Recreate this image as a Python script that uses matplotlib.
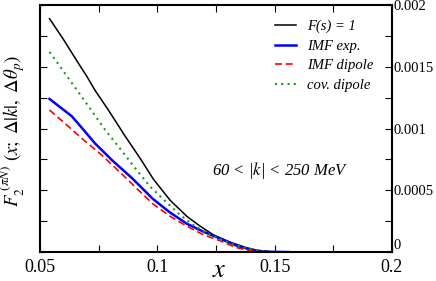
import matplotlib
matplotlib.use("Agg")
import matplotlib.pyplot as plt
from matplotlib.ticker import MultipleLocator

plt.rcParams['font.family'] = ['Liberation Serif', 'DejaVu Serif']
plt.rcParams['mathtext.fontset'] = 'stix'

# values
x_black = [0.054, 0.060, 0.0656, 0.070, 0.0734, 0.0791, 0.0862, 0.0926, 0.0983, 0.1054,
           0.1125, 0.1182, 0.1238, 0.1310, 0.1380, 0.1437, 0.150, 0.1557]
y_black = [0.00189, 0.00172, 0.00155, 0.00142, 0.00131, 0.00115, 0.00094, 0.00076, 0.00059, 0.00042,
           0.00029, 0.00021, 0.00014, 0.00008, 0.000035, 0.00001, 0.000001, 0.0]

x_blue = [0.054, 0.0635, 0.0685, 0.0734, 0.0806, 0.0891, 0.0981, 0.1054, 0.1125, 0.1196,
          0.1267, 0.1340, 0.1407, 0.147, 0.1557]
y_blue = [0.00124, 0.00110, 0.00099, 0.00088, 0.000745, 0.00060, 0.00043, 0.00032, 0.00023, 0.000165,
          0.00011, 0.00005, 0.000015, 0.000002, 0.0]

x_red = [0.054, 0.0607, 0.0678, 0.0763, 0.0855, 0.0920, 0.0981, 0.1054, 0.1125, 0.1196,
         0.1267, 0.1330, 0.1394, 0.146, 0.1557]
y_red = [0.00115, 0.00104, 0.00092, 0.000785, 0.00062, 0.00050, 0.00039, 0.00029, 0.00021, 0.00014,
         0.000092, 0.00004, 0.00001, 0.000001, 0.0]

x_green = [0.054, 0.0571, 0.0635, 0.0699, 0.0777, 0.0848, 0.0905, 0.0969, 0.1040, 0.1097,
           0.1160, 0.1224, 0.1310, 0.1380, 0.144, 0.150, 0.1557]
y_green = [0.00162, 0.00154, 0.00137, 0.00120, 0.00099, 0.00082, 0.00068, 0.00053, 0.00040, 0.00030,
           0.00021, 0.00014, 0.00007, 0.00003, 0.000008, 0.000001, 0.0]

x_ticks = [0.05, 0.1, 0.15, 0.2]
x_labels = ['0.05', '0.1', '0.15', '0.2']
y_ticks = [0, 0.0005, 0.001, 0.0015, 0.002]
y_labels = ['0', '0.0005', '0.001', '0.0015', '0.002']

fig = plt.figure(figsize=(4.36, 2.81), dpi=100)
ax = fig.add_axes([0.092, 0.103, 0.807, 0.879])

ax.plot(x_black, y_black, color='black', lw=1.1, label='F(s) = 1')
ax.plot(x_blue, y_blue, color='blue', lw=1.8, label='IMF exp.')
ax.plot(x_red, y_red, color='red', lw=1.2, dashes=(4.2, 2.2), label='IMF dipole')
ax.plot(x_green, y_green, color='#1a9a1a', lw=1.5, dashes=(1, 2), label='cov. dipole')

ax.set_xlim(0.05, 0.2)
ax.set_ylim(0, 0.002)
ax.xaxis.set_minor_locator(MultipleLocator(0.025))
ax.yaxis.set_minor_locator(MultipleLocator(0.00025))
ax.set_xticks(x_ticks)
ax.set_xticklabels(x_labels, fontsize=13)
ax.set_yticks(y_ticks)
ax.set_yticklabels(y_labels, fontsize=10.5)

ax.tick_params(which='both', direction='in', top=True, right=True, left=True,
               labelleft=False, labelright=True, length=5, width=0.8)
ax.tick_params(axis='x', pad=5)
ax.tick_params(axis='y', pad=1)
ax.yaxis.get_major_ticks()[0].label2.set_verticalalignment('bottom')
for s in ax.spines.values():
    s.set_linewidth(1.5)

ax.set_xlabel('$x$', fontsize=19, va='baseline')
ax.xaxis.set_label_coords(0.508, -0.1)
ax.set_ylabel(r'$F_2^{\ (\pi N)}\ (x;\ \Delta|k|,\ \Delta\theta_p)$', fontsize=13.5)
ax.yaxis.set_label_coords(-0.036, 0.49)

ax.text(0.683, 0.31, r'60 < |$k$| < 250 MeV', transform=ax.transAxes, ha='center',
        fontsize=12, style='italic')

ax.legend(loc='upper right', bbox_to_anchor=(0.985, 0.995), frameon=False,
          prop={'style': 'italic', 'size': 10.5}, handlelength=1.4,
          handletextpad=0.8, labelspacing=0.45)

fig.savefig('out.png', dpi=100)
